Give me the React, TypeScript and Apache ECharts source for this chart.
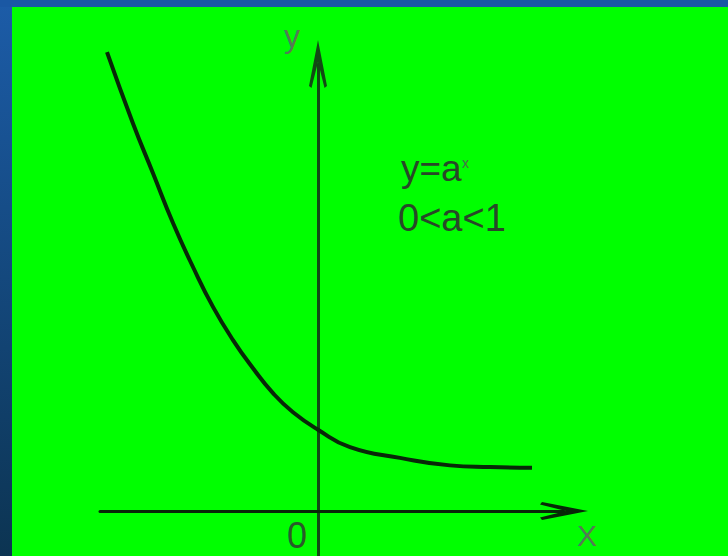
import React, { useEffect, useRef } from "react";
import * as echarts from "echarts";

// curve points (x: 1 unit = 100 px, y: 1 unit = 83 px)
const curveX = [-2.11, -1.85, -1.65, -1.45, -1.25, -1.05, -0.85, -0.65, -0.45, -0.25, 0, 0.32, 0.82, 1.32, 1.72, 2.14];
const curveY = [5.53, 4.67, 4.07, 3.47, 2.94, 2.46, 2.06, 1.72, 1.42, 1.19, 0.98, 0.77, 0.64, 0.55, 0.53, 0.52];

const formulaMain = "y=a";
const formulaSup = "x";
const conditionText = "0<a<1";
const originLabel = "0";
const xName = "X";
const yName = "y";

const FONT = "'Liberation Sans', Arial, sans-serif";
const arrowPath = "path://M0,0 L9,46 L6.5,48 L0,22 L-6.5,48 L-9,46 Z";

export default function App() {
  const ref = useRef<HTMLDivElement>(null);
  useEffect(() => {
    if (!ref.current) return;
    const chart = echarts.init(ref.current, undefined, { renderer: "svg" });
    const data = curveX.map((x, i) => [x, curveY[i]]);
    chart.setOption({
      animation: false,
      backgroundColor: "#00ff00",
      grid: { left: 100, right: 164, top: 64, bottom: 0 },
      xAxis: {
        type: "value",
        min: -2.18,
        max: 2.46,
        axisLine: {
          show: true,
          onZero: true,
          symbol: ["none", arrowPath],
          symbolSize: [18, 48],
          lineStyle: { color: "#072807", width: 3 },
        },
        axisTick: { show: false },
        axisLabel: { show: false },
        splitLine: { show: false },
      },
      yAxis: {
        type: "value",
        min: -0.542,
        max: 5.386,
        axisLine: {
          show: true,
          onZero: true,
          symbol: ["none", arrowPath],
          symbolSize: [18, 52],
          lineStyle: { color: "#124a14", width: 3 },
        },
        axisTick: { show: false },
        axisLabel: { show: false },
        splitLine: { show: false },
      },
      series: [
        {
          type: "line",
          data,
          smooth: 0.5,
          clip: false,
          showSymbol: false,
          lineStyle: { color: "#082808", width: 4 },
        },
      ],
      graphic: [
        {
          type: "rect",
          shape: { x: 0, y: 0, width: 12, height: 556 },
          style: {
            fill: new echarts.graphic.LinearGradient(0, 0, 0, 1, [
              { offset: 0, color: "#1c5ca8" },
              { offset: 1, color: "#0c3452" },
            ]),
          },
        },
        {
          type: "rect",
          shape: { x: 0, y: 0, width: 728, height: 7 },
          style: { fill: "#1a58a4" },
        },
        {
          type: "text",
          x: 401,
          y: 168,
          style: { text: formulaMain, font: `37px ${FONT}`, fill: "#284828", verticalAlign: "middle", align: "left" },
        },
        {
          type: "text",
          x: 462,
          y: 163,
          style: { text: formulaSup, font: `14px ${FONT}`, fill: "#4a6a4a", verticalAlign: "middle", align: "left" },
        },
        {
          type: "text",
          x: 398,
          y: 218,
          style: { text: conditionText, font: `38px ${FONT}`, fill: "#284828", verticalAlign: "middle", align: "left" },
        },
        {
          type: "text",
          x: 297,
          y: 535,
          style: { text: originLabel, font: `36px ${FONT}`, fill: "#2a5a2a", verticalAlign: "middle", align: "center" },
        },
        {
          type: "text",
          x: 587,
          y: 535,
          style: { text: xName, font: `30px ${FONT}`, fill: "#557a55", verticalAlign: "middle", align: "center" },
        },
        {
          type: "text",
          x: 292,
          y: 36,
          style: { text: yName, font: `32px ${FONT}`, fill: "#557a55", verticalAlign: "middle", align: "center" },
        },
      ],
    });
    return () => chart.dispose();
  }, []);
  return <div ref={ref} style={{ position: "absolute", left: 0, top: 0, width: 728, height: 556 }} />;
}
